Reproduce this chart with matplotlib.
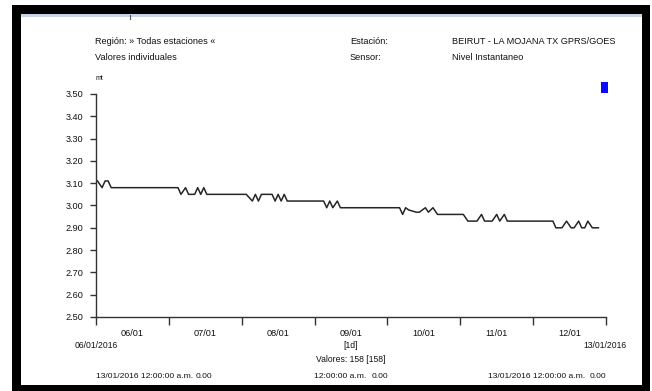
import matplotlib
matplotlib.use("Agg")
import matplotlib.pyplot as plt
from matplotlib.patches import Rectangle
from matplotlib.ticker import FixedLocator

plt.rcParams['font.family'] = ['Liberation Sans Narrow', 'Liberation Sans', 'DejaVu Sans']

# ── data: hours since 06/01/2016 00:00, level in metres ──
hours = [0.5, 2, 3, 4, 5,
         27, 28, 29.5, 30.5, 32.5, 33.5, 34.5, 35.5, 36.5,
         49.5, 51.5, 52.5, 53.5, 54.5, 58, 59, 60, 61, 62, 63,
         75, 76, 77, 78, 79.5, 80.5,
         100, 101, 102, 103, 105.5, 106.5, 108.5, 109.5, 111, 112.5,
         121, 122.5, 125.5, 127, 128, 130.5, 132, 133, 134.5, 135.5,
         150.5, 151.5, 153.5, 155, 156.5, 157.5, 159, 160, 161, 162, 163.5, 165.5]
nivel = [3.11, 3.08, 3.11, 3.11, 3.08,
         3.08, 3.05, 3.08, 3.05, 3.05, 3.08, 3.05, 3.08, 3.05,
         3.05, 3.02, 3.05, 3.02, 3.05, 3.05, 3.02, 3.05, 3.02, 3.05, 3.02,
         3.02, 2.99, 3.02, 2.99, 3.02, 2.99,
         2.99, 2.96, 2.99, 2.98, 2.97, 2.97, 2.99, 2.97, 2.99, 2.96,
         2.96, 2.93, 2.93, 2.96, 2.93, 2.93, 2.96, 2.93, 2.96, 2.93,
         2.93, 2.90, 2.90, 2.93, 2.90, 2.90, 2.93, 2.90, 2.90, 2.93, 2.90, 2.90]

day_labels = ["06/01", "07/01", "08/01", "09/01", "10/01", "11/01", "12/01"]
y_ticks = [2.50, 2.60, 2.70, 2.80, 2.90, 3.00, 3.10, 3.20, 3.30, 3.40, 3.50]

W, H = 652, 391
fig = plt.figure(figsize=(W / 100, H / 100), dpi=100)
fig.patch.set_facecolor("white")

# background layer in pixel coordinates (frame + header/footer text)
bg = fig.add_axes([0, 0, 1, 1], zorder=0)
bg.set_xlim(0, W)
bg.set_ylim(H, 0)
bg.axis("off")
bg.add_patch(Rectangle((12, 5), 638, 386, facecolor="black", edgecolor="none"))
bg.add_patch(Rectangle((20.5, 13.5), 621.5, 371.5, facecolor="white", edgecolor="none"))
bg.add_patch(Rectangle((20.5, 13.5), 621.5, 3, facecolor="#c9d3e6", edgecolor="none"))
bg.plot([130, 130], [15, 19], color="#555555", lw=0.8)
bg.add_patch(Rectangle((601, 82), 7, 11, facecolor="#0a0aff", edgecolor="none"))

fs = 6.6
fs2 = 6.1
tc = "#111111"
bg.text(95, 41, "Región: » Todas estaciones «", fontsize=fs, color=tc, va="center")
bg.text(95, 57, "Valores individuales", fontsize=fs, color=tc, va="center")
bg.text(350, 41, "Estación:", fontsize=fs, color=tc, va="center")
bg.text(350, 57, "Sensor:", fontsize=fs, color=tc, va="center")
bg.text(452, 41, "BEIRUT - LA MOJANA TX GPRS/GOES", fontsize=fs, color=tc, va="center")
bg.text(452, 57, "Nivel Instantaneo", fontsize=fs, color=tc, va="center")
bg.text(96, 78, "mt", fontsize=5, color=tc, va="center")

bg.text(96, 346, "06/01/2016", fontsize=6.2, color=tc, va="center", ha="center")
bg.text(605, 346, "13/01/2016", fontsize=6.2, color=tc, va="center", ha="center")
bg.text(351, 346, "[1d]", fontsize=6.2, color=tc, va="center", ha="center")
bg.text(351, 360, "Valores: 158 [158]", fontsize=6.2, color=tc, va="center", ha="center")

# bottom summary row: time stamp + value, three columns
bg.text(96, 376, "13/01/2016 12:00:00 a.m.", fontsize=fs2, color=tc, va="center", ha="left")
bg.text(212, 376, "0.00", fontsize=fs2, color=tc, va="center", ha="right")
bg.text(314, 376, "12:00:00 a.m.", fontsize=fs2, color=tc, va="center", ha="left")
bg.text(388, 376, "0.00", fontsize=fs2, color=tc, va="center", ha="right")
bg.text(488, 376, "13/01/2016 12:00:00 a.m.", fontsize=fs2, color=tc, va="center", ha="left")
bg.text(606, 376, "0.00", fontsize=fs2, color=tc, va="center", ha="right")

# main plot
ax = fig.add_axes([96 / W, 1 - 317 / H, 510 / W, 223 / H], zorder=1)
ax.patch.set_alpha(0)
ax.plot(hours, nivel, color="#262626", lw=1.1)

ax.set_xlim(0, 168)
ax.set_ylim(2.50, 3.50)
for s in ["top", "right"]:
    ax.spines[s].set_visible(False)
for s in ["left", "bottom"]:
    ax.spines[s].set_color("#333333")
    ax.spines[s].set_linewidth(1.0)

ax.set_yticks(y_ticks)
ax.set_yticklabels([f"{v:.2f}" for v in y_ticks])
ax.tick_params(axis="y", direction="out", length=4, width=1, color="#333333",
               pad=5, labelsize=fs, labelcolor=tc)

ax.xaxis.set_major_locator(FixedLocator([24 * i for i in range(8)]))
ax.set_xticklabels([])
ax.xaxis.set_minor_locator(FixedLocator([24 * i + 12 for i in range(7)]))
ax.set_xticklabels(day_labels, minor=True)
ax.tick_params(axis="x", which="major", direction="out", length=5.5, width=1, color="#333333")
ax.tick_params(axis="x", which="minor", length=0, pad=8.5, labelsize=fs, labelcolor=tc)

fig.savefig("out.png", dpi=100)
